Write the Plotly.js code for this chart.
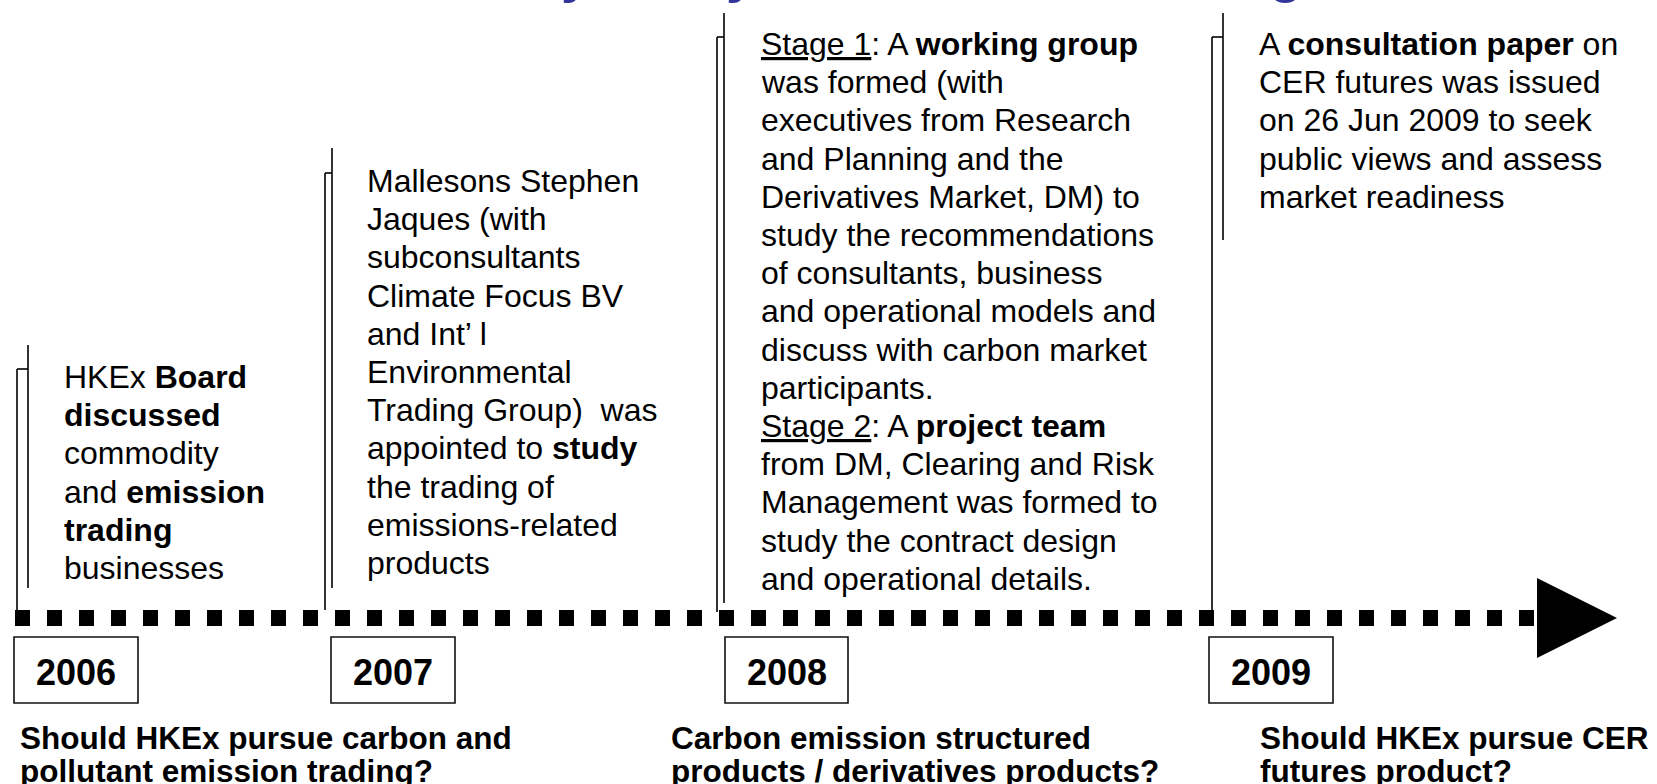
<!DOCTYPE html>
<html><head><meta charset="utf-8">
<script src="https://cdn.plot.ly/plotly-3.0.1.min.js"></script>
<style>html,body{margin:0;padding:0;background:#fff;overflow:hidden}</style>
</head><body><div id="chart" style="width:1657px;height:784px"></div>
<script>
// ---------------- data ----------------
const titleText = 'Feasibility Study on Emission Trading';
const years = ['2006', '2007', '2008', '2009'];
const events2006 = ['HKEx <b>Board</b>', '<b>discussed</b>', 'commodity', 'and <b>emission</b>', '<b>trading</b>', 'businesses'];
const events2007 = ['Mallesons Stephen', 'Jaques (with', 'subconsultants', 'Climate Focus BV', 'and Int\u2019 l', 'Environmental',
  'Trading Group)\u00a0 was', 'appointed to <b>study</b>', 'the trading of', 'emissions-related', 'products'];
const events2008 = ['<span style="text-decoration:underline">Stage 1</span>: A <b>working group</b>', 'was formed (with',
  'executives from Research', 'and Planning and the', 'Derivatives Market, DM) to', 'study the recommendations',
  'of consultants, business', 'and operational models and', 'discuss with carbon market', 'participants.',
  '<span style="text-decoration:underline">Stage 2</span>: A <b>project team</b>', 'from DM, Clearing and Risk',
  'Management was formed to', 'study the contract design', 'and operational details.'];
const events2009 = ['A <b>consultation paper</b> on', 'CER futures was issued', 'on 26 Jun 2009 to seek',
  'public views and assess', 'market readiness'];
const question1 = ['Should HKEx pursue carbon and', 'pollutant emission trading?'];
const question2 = ['Carbon emission structured', 'products / derivatives products?'];
const question3 = ['Should HKEx pursue CER', 'futures product?'];

// ---------------- layout constants ----------------
const W = 1657, H = 784;
const FONT = '"Liberation Sans", Arial, sans-serif';
const BODY = 32, PITCH = 38.2, YEARF = 36, QF = 31.5;
const axisY = 618, axisX0 = 15, axisX1 = 1535, arrowX0 = 1537, arrowTip = 1617, arrowHalf = 40;
const boxTop = 637, boxBottom = 703;
const slots = [
  {lines: events2006, box: [14, 138], left: 17, right: 28, rightTop: 345, rightBottom: 588, hook: 369, leftBottom: 610, textX: 65, base: 388},
  {lines: events2007, box: [331, 455], left: 325, right: 332, rightTop: 148, rightBottom: 588, hook: 173, leftBottom: 610, textX: 368, base: 192},
  {lines: events2008, box: [725, 848], left: 717, right: 724, rightTop: 13, rightBottom: 603, hook: 37, leftBottom: 612, textX: 762, base: 55},
  {lines: events2009, box: [1209, 1333], left: 1212, right: 1223, rightTop: 13, rightBottom: 240, hook: 37, leftBottom: 612, textX: 1260, base: 55}
];
const questions = [
  {lines: question1, x: 21}, {lines: question2, x: 672}, {lines: question3, x: 1261}
];
const qBase = [749, 782];

const shapes = [];
const annotations = [];
const ln = (x0, y0, x1, y1, w) => ({type: 'line', xref: 'x', yref: 'y', x0, y0, x1, y1, line: {color: '#000', width: w || 1.6}});

// timeline
shapes.push({type: 'line', xref: 'x', yref: 'y', x0: axisX0, x1: axisX1, y0: axisY, y1: axisY,
  line: {color: '#000', width: 16, dash: '15px,17px'}});
shapes.push({type: 'path', xref: 'x', yref: 'y',
  path: `M${arrowX0},${axisY - arrowHalf} L${arrowTip},${axisY} L${arrowX0},${axisY + arrowHalf} Z`,
  fillcolor: '#000', line: {width: 0}});

slots.forEach((s, i) => {
  // callout lines
  shapes.push(ln(s.right, s.rightTop, s.right, s.rightBottom));
  shapes.push(ln(s.left, s.hook, s.right, s.hook));
  shapes.push(ln(s.left, s.hook, s.left, s.leftBottom));
  // year box
  shapes.push({type: 'rect', xref: 'x', yref: 'y', x0: s.box[0], x1: s.box[1], y0: boxTop, y1: boxBottom,
    line: {color: '#111', width: 1.6}, fillcolor: 'rgba(0,0,0,0)'});
  annotations.push({xref: 'x', yref: 'y', x: (s.box[0] + s.box[1]) / 2, y: (boxTop + boxBottom) / 2 + 2,
    text: '<b>' + years[i] + '</b>', showarrow: false, xanchor: 'center', yanchor: 'middle',
    font: {family: FONT, size: YEARF, color: '#000'}});
  // event text lines
  s.lines.forEach((t, k) => {
    annotations.push({xref: 'x', yref: 'y', x: s.textX - 3, y: s.base + k * PITCH - 0.3465 * BODY,
      text: t, showarrow: false, xanchor: 'left', yanchor: 'middle', align: 'left',
      font: {family: FONT, size: BODY, color: '#000'}});
  });
});

questions.forEach(q => {
  q.lines.forEach((t, k) => {
    annotations.push({xref: 'x', yref: 'y', x: q.x - 3, y: qBase[k] - 0.3465 * QF,
      text: '<b>' + t + '</b>', showarrow: false, xanchor: 'left', yanchor: 'middle', align: 'left',
      font: {family: FONT, size: QF, color: '#000'}});
  });
});

// title (mostly above the visible area, only descenders show)
annotations.push({xref: 'x', yref: 'y', x: 325, y: 5.5, text: '<b>' + titleText + '</b>', showarrow: false,
  xanchor: 'left', yanchor: 'bottom', font: {family: FONT, size: 54, color: '#333399'}});

Plotly.newPlot('chart', [], {
  width: W, height: H,
  margin: {l: 0, r: 0, t: 0, b: 0, pad: 0},
  paper_bgcolor: '#fff', plot_bgcolor: '#fff',
  showlegend: false,
  xaxis: {range: [0, W], visible: false, fixedrange: true},
  yaxis: {range: [H, 0], visible: false, fixedrange: true},
  shapes, annotations
}, {displayModeBar: false, staticPlot: true});
</script></body></html>
